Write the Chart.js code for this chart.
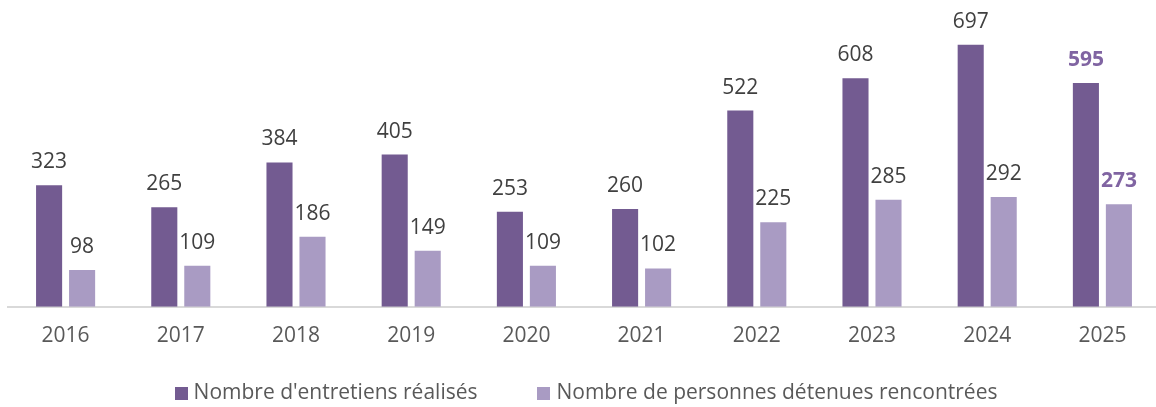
<!DOCTYPE html>
<html lang="fr">
<head>
<meta charset="utf-8">
<script src="https://cdn.jsdelivr.net/npm/chart.js@4.4.1/dist/chart.umd.min.js"></script>
<style>
  html, body { margin: 0; padding: 0; background: #ffffff; overflow: hidden; }
  #wrap { position: relative; width: 1160px; height: 407px; }
</style>
</head>
<body>
<div id="wrap"><canvas id="chart"></canvas></div>
<script>
// Années et séries
const years = ['2016', '2017', '2018', '2019', '2020', '2021', '2022', '2023', '2024', '2025'];
const entretiens = [323, 265, 384, 405, 253, 260, 522, 608, 697, 595];
const personnes = [98, 109, 186, 149, 109, 102, 225, 285, 292, 273];
const seriesNames = ["Nombre d'entretiens réalisés", 'Nombre de personnes détenues rencontrées'];

const FONT = '"Open Sans", Lato, sans-serif';
const DARK = '#735b91';
const LIGHT = '#a99bc3';
const HIGHLIGHT = '#8064a2';

// Étiquettes de valeur au-dessus des barres ; la dernière année en gras violet
const valueLabels = {
  id: 'valueLabels',
  afterDatasetsDraw(chart) {
    const ctx = chart.ctx;
    ctx.save();
    ctx.textAlign = 'center';
    ctx.textBaseline = 'middle';
    chart.data.datasets.forEach((ds, di) => {
      const meta = chart.getDatasetMeta(di);
      meta.data.forEach((bar, i) => {
        const last = i === ds.data.length - 1;
        ctx.font = (last ? 'bold ' : '') + '21px ' + FONT;
        ctx.fillStyle = last ? HIGHLIGHT : '#404040';
        ctx.fillText(String(ds.data[i]), bar.x, bar.y - 23);
      });
    });
    ctx.restore();
  }
};

// Légende en bas : carré de couleur suivi du nom de la série
const bottomLegend = {
  id: 'bottomLegend',
  afterDraw(chart) {
    const ctx = chart.ctx;
    const box = 13, gapText = 6, gapItems = 60;
    const y = 393;
    ctx.save();
    ctx.font = '21px ' + FONT;
    ctx.textBaseline = 'middle';
    ctx.textAlign = 'left';
    const items = chart.data.datasets.map(ds => ({
      text: ds.label, color: ds.backgroundColor, w: ctx.measureText(ds.label).width
    }));
    const total = items.reduce((s, it) => s + box + gapText + it.w, 0) + gapItems * (items.length - 1);
    const area = chart.chartArea;
    let x = (area.left + area.right) / 2 - total / 2 + 2;
    items.forEach(it => {
      ctx.fillStyle = it.color;
      ctx.fillRect(Math.round(x), y - 6, box, box);
      ctx.fillStyle = '#595959';
      ctx.fillText(it.text, x + box + gapText, y);
      x += box + gapText + it.w + gapItems;
    });
    ctx.restore();
  }
};

new Chart(document.getElementById('chart'), {
  type: 'bar',
  data: {
    labels: years,
    datasets: [
      { label: seriesNames[0], data: entretiens, backgroundColor: DARK },
      { label: seriesNames[1], data: personnes, backgroundColor: LIGHT }
    ]
  },
  options: {
    responsive: true,
    maintainAspectRatio: false,
    animation: false,
    categoryPercentage: 0.573,
    barPercentage: 0.79,
    layout: { padding: { top: 6, left: 8, right: 0, bottom: 41 } },
    scales: {
      x: {
        grid: { display: false, drawTicks: false },
        border: { display: true, color: '#d9d9d9', width: 2 },
        ticks: { color: '#595959', font: { family: FONT, size: 21 }, padding: 17 }
      },
      y: {
        display: false,
        min: 0,
        max: 800
      }
    },
    plugins: {
      tooltip: { enabled: false },
      legend: { display: false }
    }
  },
  plugins: [valueLabels, bottomLegend]
});
</script>
</body>
</html>
